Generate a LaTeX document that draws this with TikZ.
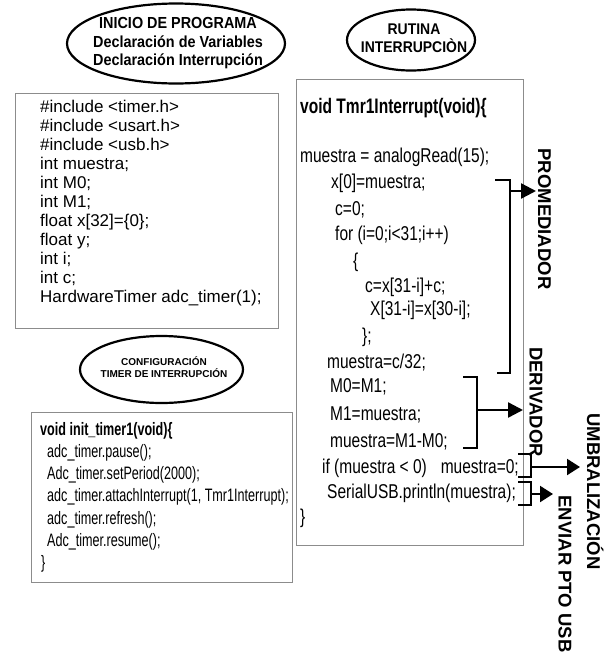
\documentclass[tikz,border=0pt]{standalone}
\usepackage{fontspec}
\setmainfont{Liberation Sans}
\newfontfamily\ellF[FakeStretch=0.9]{Liberation Sans}
\newfontfamily\codeF[FakeStretch=0.775]{Liberation Sans}
\newfontfamily\headF[FakeStretch=0.74]{Liberation Sans}
\newfontfamily\cfgF[FakeStretch=0.7]{Liberation Sans}
\usetikzlibrary{shapes.geometric,arrows.meta}
\begin{document}
\begin{tikzpicture}[x=1pt,y=-1pt,
  oval/.style={ellipse, draw, line width=2.2pt, inner sep=0pt},
  codebox/.style={draw=black!45, line width=0.9pt},
  ln/.style={anchor=base west, inner sep=0pt},
  lbox/.style={ln, font=\fontsize{17}{19}\selectfont},
  cfg/.style={ln, font=\cfgF\fontsize{18}{22}\selectfont},
  rc/.style={ln, font=\codeF\fontsize{20}{24}\selectfont},
  brk/.style={line width=2.4pt},
  sbrk/.style={line width=2pt},
  arr/.style={line width=2.4pt, -{Triangle[length=15pt,width=15pt]}},
  sarr/.style={line width=2.2pt, -{Triangle[length=13pt,width=16pt]}},
  side/.style={anchor=base, rotate=-90, inner sep=0pt, font=\bfseries\fontsize{18.5}{20}\selectfont}
]
\useasboundingbox (0,0) rectangle (608,654);
\fill[white] (0,0) rectangle (608,654);

% ---------- ellipses ----------
\node[oval, minimum width=218pt, minimum height=80pt] (e1) at (176,43.5) {};
\node[align=center, inner sep=0pt, font=\ellF\bfseries\fontsize{16}{18.5}\selectfont] (e1t) at (178,43.5)
  {INICIO DE PROGRAMA\\Declaración de Variables\\Declaración Interrupción};

\node[oval, minimum width=163pt, minimum height=67pt] (e2) at (161.5,369.5) {};
\node[align=center, inner sep=0pt, font=\bfseries\fontsize{10}{12.5}\selectfont] (e2t) at (164,367)
  {CONFIGURACIÓN\\TIMER DE INTERRUPCIÓN};

\node[oval, minimum width=128pt, minimum height=61pt] (e3) at (411,40) {};
\node[align=center, inner sep=0pt, font=\ellF\bfseries\fontsize{15.5}{18}\selectfont] (e3t) at (414,38)
  {RUTINA\\INTERRUPCIÒN};

% ---------- boxes ----------
\draw[codebox] (15,93) rectangle (278,328);
\draw[codebox] (31,412) rectangle (292,582);
\draw[codebox] (296,79) rectangle (523,545);

% ---------- declarations ----------
\node[lbox] (d1) at (40,112) {\#include <timer.h>};
\node[lbox] (d2) at (40,131) {\#include <usart.h>};
\node[lbox] (d3) at (40,150) {\#include <usb.h>};
\node[lbox] (d4) at (40,169) {int muestra;};
\node[lbox] (d5) at (40,188) {int M0;};
\node[lbox] (d6) at (40,207) {int M1;};
\node[lbox] (d7) at (40,226) {float x[32]=\{0\};};
\node[lbox] (d8) at (40,245) {float y;};
\node[lbox] (d9) at (40,264) {int i;};
\node[lbox] (d10) at (40,283) {int c;};
\node[lbox] (d11) at (40,302) {HardwareTimer adc\_timer(1);};

% ---------- timer config ----------
\node[cfg, font=\cfgF\bfseries\fontsize{18}{22}\selectfont] (c1) at (40,435) {void init\_timer1(void)\{};
\node[cfg] (c2) at (47,457.3) {adc\_timer.pause();};
\node[cfg] (c3) at (47,479.6) {Adc\_timer.setPeriod(2000);};
\node[cfg] (c4) at (47,501.9) {adc\_timer.attachInterrupt(1, Tmr1Interrupt);};
\node[cfg] (c5) at (47,524.2) {adc\_timer.refresh();};
\node[cfg] (c6) at (47,546.5) {Adc\_timer.resume();};
\node[cfg] (c7) at (41,568.8) {\}};

% ---------- interrupt routine ----------
\node[ln, font=\headF\bfseries\fontsize{21}{24}\selectfont] (r0) at (300,113) {void Tmr1Interrupt(void)\{};
\node[rc] (r1) at (300,162) {muestra = analogRead(15);};
\node[rc] (r2) at (331,188) {x[0]=muestra;};
\node[rc] (r3) at (335,215) {c=0;};
\node[rc] (r4) at (335,240) {for (i=0;i<31;i++)};
\node[rc] (r5) at (353,267) {\{};
\node[rc] (r6) at (365,292) {c=x[31-i]+c;};
\node[rc] (r7) at (370,315) {X[31-i]=x[30-i];};
\node[rc] (r8) at (362,342) {\};};
\node[rc] (r9) at (327,368) {muestra=c/32;};
\node[rc] (r10) at (330,392) {M0=M1;};
\node[rc] (r11) at (330,420) {M1=muestra;};
\node[rc] (r12) at (330,447) {muestra=M1-M0;};
\node[rc] (r13) at (322,473) {if (muestra < 0)\hspace{14pt}muestra=0;};
\node[rc] (r14) at (327,498) {SerialUSB.println(muestra);};
\node[rc] (r15) at (300,523) {\}};

% ---------- side labels ----------
\node[side] (pro) at (538,219) {PROMEDIADOR};
\node[side] (der) at (529.5,402) {DERIVADOR};
\node[side] (umb) at (587,491.5) {UMBRALIZACIÓN};
\node[side] (usb) at (558.5,574) {ENVIAR PTO USB};

% ---------- brackets and arrows ----------
\coordinate (pa) at (495,180); \coordinate (pb) at (510,180);
\coordinate (pc) at (510,373); \coordinate (pd) at (497,373);
\coordinate (pm) at (510,191); \coordinate (pt) at (536,191);
\draw[brk] (pa) -- (pb) -- (pc) -- (pd);
\draw[arr] (pm) -- (pt);

\coordinate (da) at (463,377); \coordinate (db) at (477,377);
\coordinate (dc) at (477,448); \coordinate (dd) at (463,448);
\coordinate (dm) at (477,410); \coordinate (dt) at (523,410);
\draw[brk] (da) -- (db) -- (dc) -- (dd);
\draw[arr] (dm) -- (dt);

\coordinate (ua) at (518,454); \coordinate (ub) at (531,454);
\coordinate (uc) at (531,477); \coordinate (ud) at (518,477);
\coordinate (um) at (531,467); \coordinate (ut) at (580,467);
\draw[sbrk] (ua) -- (ub) -- (uc) -- (ud);
\draw[sarr] (um) -- (ut);

\coordinate (sa) at (518,482); \coordinate (sb) at (531,482);
\coordinate (sc) at (531,505); \coordinate (sd) at (518,505);
\coordinate (sm) at (531,494); \coordinate (st) at (553,494);
\draw[sbrk] (sa) -- (sb) -- (sc) -- (sd);
\draw[sarr] (sm) -- (st);
\end{tikzpicture}
\end{document}
